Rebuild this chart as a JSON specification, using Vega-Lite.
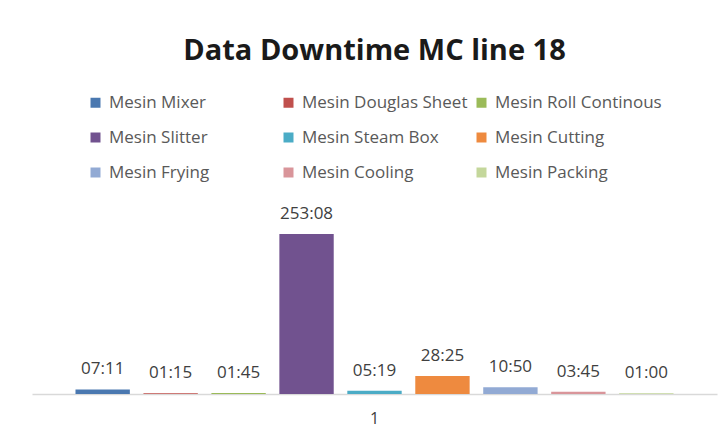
{
  "$schema": "https://vega.github.io/schema/vega-lite/v6.json",
  "width": 685,
  "height": 194,
  "autosize": {"type": "none"},
  "padding": {"left": 32, "top": 200, "right": 6, "bottom": 45},
  "background": "white",
  "config": {"view": {"stroke": null}, "font": "Open Sans"},
  "title": {
    "text": "Data Downtime MC line 18",
    "font": "Open Sans",
    "fontSize": 29,
    "fontWeight": "bold",
    "color": "#1a1a1a",
    "anchor": "middle",
    "offset": 28
  },
  "data": {
    "values": [
      {"grp": "1", "mesin": "Mesin Mixer", "jam": 7.183, "label": "07:11"},
      {"grp": "1", "mesin": "Mesin Douglas Sheet", "jam": 1.25, "label": "01:15"},
      {"grp": "1", "mesin": "Mesin Roll Continous", "jam": 1.75, "label": "01:45"},
      {"grp": "1", "mesin": "Mesin Slitter", "jam": 253.133, "label": "253:08"},
      {"grp": "1", "mesin": "Mesin Steam Box", "jam": 5.317, "label": "05:19"},
      {"grp": "1", "mesin": "Mesin Cutting", "jam": 28.417, "label": "28:25"},
      {"grp": "1", "mesin": "Mesin Frying", "jam": 10.833, "label": "10:50"},
      {"grp": "1", "mesin": "Mesin Cooling", "jam": 3.75, "label": "03:45"},
      {"grp": "1", "mesin": "Mesin Packing", "jam": 1.0, "label": "01:00"}
    ]
  },
  "encoding": {
    "x": {
      "field": "grp",
      "type": "nominal",
      "scale": {"paddingInner": 0, "paddingOuter": 0.06},
      "axis": {
        "title": null,
        "labelAngle": 0,
        "labelFontSize": 16,
        "labelColor": "#404040",
        "labelPadding": 16,
        "ticks": false,
        "domainColor": "#d9d9d9",
        "domainWidth": 1.5,
        "grid": false
      }
    },
    "xOffset": {
      "field": "mesin",
      "type": "nominal",
      "sort": null,
      "scale": {
        "domain": ["Mesin Mixer", "Mesin Douglas Sheet", "Mesin Roll Continous", "Mesin Slitter", "Mesin Steam Box", "Mesin Cutting", "Mesin Frying", "Mesin Cooling", "Mesin Packing"],
        "paddingInner": 0.2,
        "paddingOuter": 0.1
      }
    },
    "y": {
      "field": "jam",
      "type": "quantitative",
      "scale": {"domain": [0, 307], "nice": false},
      "axis": null
    }
  },
  "layer": [
    {
      "mark": {"type": "bar"},
      "encoding": {
        "color": {
          "field": "mesin",
          "type": "nominal",
          "scale": {
            "domain": ["Mesin Mixer", "Mesin Douglas Sheet", "Mesin Roll Continous", "Mesin Slitter", "Mesin Steam Box", "Mesin Cutting", "Mesin Frying", "Mesin Cooling", "Mesin Packing"],
            "range": ["#4a78b0", "#c0504d", "#9bbb59", "#71528f", "#4bacc6", "#ee8a3f", "#92aad4", "#d9959a", "#c4d79b"]
          },
          "legend": {
            "title": null,
            "orient": "none",
            "direction": "horizontal",
            "legendX": 55,
            "legendY": -106,
            "columns": 3,
            "gridAlign": "all",
            "columnPadding": 4,
            "rowPadding": 17,
            "symbolType": "square",
            "symbolSize": 100,
            "symbolStrokeWidth": 0,
            "labelFont": "Open Sans",
            "labelFontSize": 17,
            "labelColor": "#595959",
            "labelOffset": 5,
            "labelLimit": 300
          }
        }
      }
    },
    {
      "mark": {"type": "text", "dy": -20, "baseline": "middle", "fontSize": 17, "font": "Open Sans", "color": "#404040"},
      "encoding": {"text": {"field": "label"}}
    }
  ]
}
